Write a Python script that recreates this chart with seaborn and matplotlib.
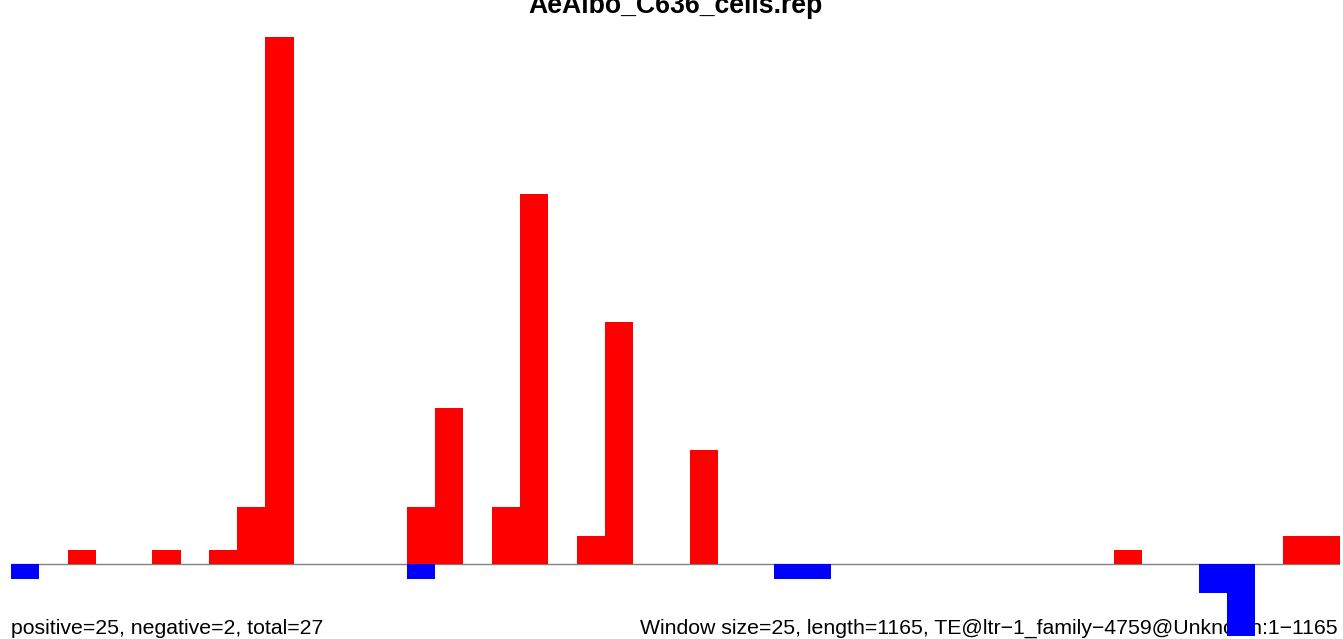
import matplotlib
matplotlib.use("Agg")
import matplotlib.pyplot as plt
import seaborn as sns
import numpy as np
import pandas as pd

title = "AeAlbo_C636_cells.rep"
left_label = "positive=25, negative=2, total=27"
right_label = "Window size=25, length=1165, TE@ltr\u22121_family\u22124759@Unknown:1\u22121165"

bins = list(range(47))
positive = [0, 0, 1, 0, 0, 1, 0, 1, 4, 37,
            0, 0, 0, 0, 4, 11, 0, 4, 26, 0,
            2, 17, 0, 0, 8, 0, 0, 0, 0, 0,
            0, 0, 0, 0, 0, 0, 0, 0, 0, 1,
            0, 0, 0, 0, 0, 2, 2]
negative = [-1, 0, 0, 0, 0, 0, 0, 0, 0, 0,
            0, 0, 0, 0, -1, 0, 0, 0, 0, 0,
            0, 0, 0, 0, 0, 0, 0, -1, -1, 0,
            0, 0, 0, 0, 0, 0, 0, 0, 0, 0,
            0, 0, -2, -5, 0, 0, 0]

df = pd.DataFrame({"bin": bins, "positive": positive, "negative": negative})

sns.set_theme(style="white")
plt.rcParams["font.family"] = ["Liberation Sans", "DejaVu Sans"]

W, H = 1343, 639
fig = plt.figure(figsize=(W / 100, H / 100), dpi=100)
ax = fig.add_axes([11 / W, 1 - 635.5 / H, (1340 - 11) / W, (635.5 - 37) / H])
ax.set_facecolor("none")

ax.axhline(0, color="#808080", linewidth=1.0, zorder=1)
sns.barplot(data=df, x="bin", y="positive", color="#FF0000", width=1.0,
            saturation=1, linewidth=0, ax=ax, zorder=2)
sns.barplot(data=df, x="bin", y="negative", color="#0000FF", width=1.0,
            saturation=1, linewidth=0, ax=ax, zorder=2)

ax.set_xlim(-0.5, 46.5)
ax.set_ylim(-5, 37)
for s in ax.spines.values():
    s.set_visible(False)
ax.set_xticks([])
ax.set_yticks([])
ax.set_xlabel("")
ax.set_ylabel("")
for p in ax.patches:
    p.set_clip_on(False)

fig.text(675 / W, 1 - 13 / H, title, ha="center", va="baseline",
         fontsize=19.2, fontweight="bold", color="black", zorder=-1)
fig.text(11 / W, 1 - 634 / H, left_label, ha="left", va="baseline",
         fontsize=15.3, color="black", zorder=-1)
fig.text(1338 / W, 1 - 634 / H, right_label, ha="right", va="baseline",
         fontsize=15.3, color="black", zorder=-1)

fig.savefig("out.png", dpi=100)
